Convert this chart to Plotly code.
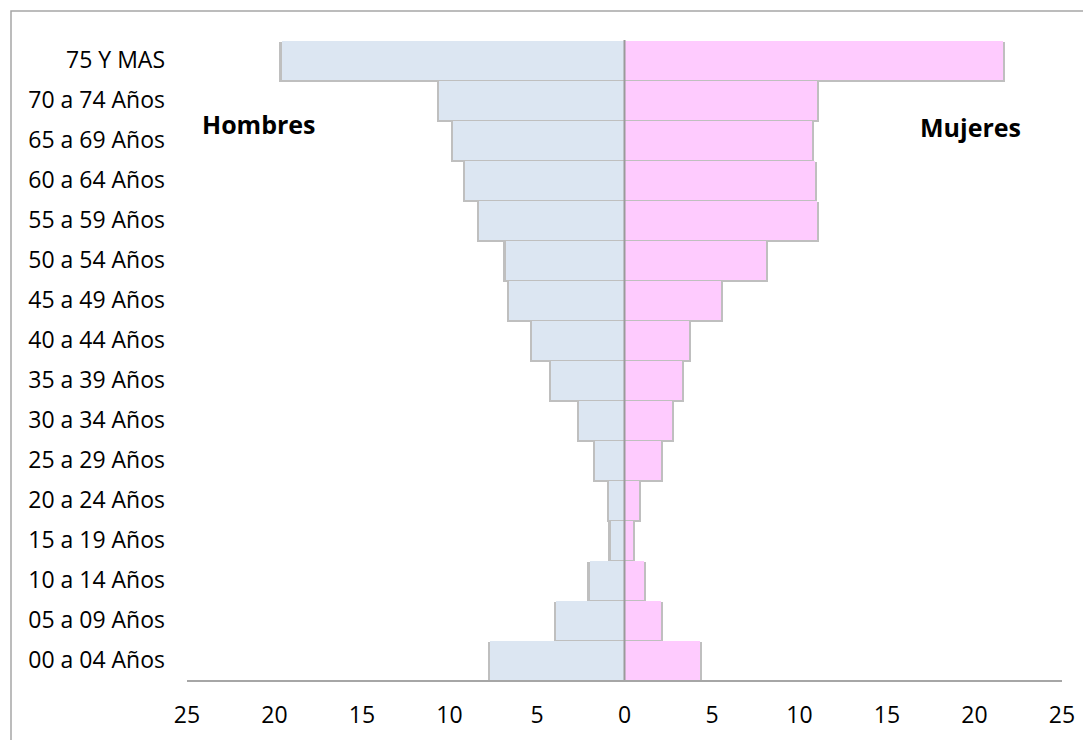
import plotly.graph_objects as go

categorias = ["00 a 04 Años", "05 a 09 Años", "10 a 14 Años", "15 a 19 Años",
              "20 a 24 Años", "25 a 29 Años", "30 a 34 Años", "35 a 39 Años",
              "40 a 44 Años", "45 a 49 Años", "50 a 54 Años", "55 a 59 Años",
              "60 a 64 Años", "65 a 69 Años", "70 a 74 Años", "75 Y MAS"]
hombres = [7.7, 3.9, 2.0, 0.8, 0.9, 1.7, 2.6, 4.2, 5.3, 6.6, 6.8, 8.3, 9.1, 9.8, 10.6, 19.6]
mujeres = [4.3, 2.1, 1.1, 0.5, 0.8, 2.1, 2.7, 3.3, 3.7, 5.5, 8.1, 11.0, 10.9, 10.7, 11.0, 21.6]
tick_vals = [-25, -20, -15, -10, -5, 0, 5, 10, 15, 20, 25]
tick_text = [str(abs(v)) for v in tick_vals]

FONT = "Open Sans"
fig = go.Figure()

# soft shadows
fig.add_trace(go.Bar(y=categorias, x=[-(h + 0.12) for h in hombres], orientation="h",
                     marker=dict(color="rgba(0,0,0,0.25)", line=dict(width=0)),
                     width=1.0, offset=-0.56, hoverinfo="skip", showlegend=False))
fig.add_trace(go.Bar(y=categorias, x=[m + 0.12 for m in mujeres], orientation="h",
                     marker=dict(color="rgba(0,0,0,0.25)", line=dict(width=0)),
                     width=1.0, offset=-0.56, hoverinfo="skip", showlegend=False))

fig.add_trace(go.Bar(y=categorias, x=[-h for h in hombres], orientation="h", name="Hombres",
                     marker=dict(color="#DCE6F2", line=dict(width=0)),
                     width=0.97, offset=-0.5, showlegend=False))
fig.add_trace(go.Bar(y=categorias, x=mujeres, orientation="h", name="Mujeres",
                     marker=dict(color="#FECBFE", line=dict(width=0)),
                     width=0.97, offset=-0.5, showlegend=False))

W, H = 1083, 732
ml, mr, mt, mb = 179, 29, 32, 60
pw, ph = W - ml - mr, H - mt - mb

fig.update_layout(
    width=W, height=H, barmode="overlay", bargap=0,
    margin=dict(l=ml, r=mr, t=mt, b=mb, autoexpand=False),
    paper_bgcolor="white", plot_bgcolor="white",
    font=dict(family=FONT, size=23, color="#000000"),
    xaxis=dict(range=[-25, 25], tickvals=tick_vals, ticktext=tick_text,
               showgrid=False, zeroline=False, showline=True, linecolor="#A6A6A6",
               linewidth=2, ticks="", ticklabelstandoff=13, automargin=False,
               tickfont=dict(family=FONT, size=23)),
    yaxis=dict(range=[-0.5, 15.5], showgrid=False, zeroline=False, ticks="",
               ticklabelstandoff=21, automargin=False,
               tickfont=dict(family=FONT, size=23)),
    shapes=[
        dict(type="line", xref="x", yref="paper", x0=0, x1=0, y0=0, y1=1,
             line=dict(color="#9A9A9A", width=2), layer="above"),
        dict(type="rect", xref="paper", yref="paper",
             x0=(3 - ml) / pw, x1=(W + 10 - ml) / pw,
             y0=-0.3, y1=(H - 3 - mb) / ph,
             line=dict(color="#A6A6A6", width=1.5), fillcolor="rgba(0,0,0,0)", layer="below"),
    ],
    annotations=[
        dict(text="<b>Hombres</b>", x=-20.9, y=13.4, xref="x", yref="y", showarrow=False,
             font=dict(family=FONT, size=25)),
        dict(text="<b>Mujeres</b>", x=19.75, y=13.32, xref="x", yref="y", showarrow=False,
             font=dict(family=FONT, size=25)),
    ],
)
fig.write_html("out.html")
